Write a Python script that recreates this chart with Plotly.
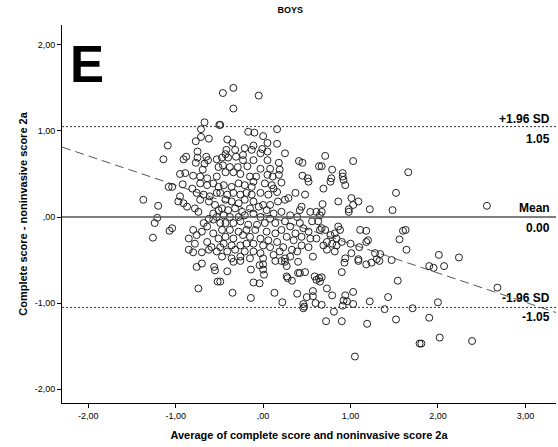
import plotly.graph_objects as go

# Bland-Altman data (average, difference)
avg = [
 -1.37,-1.20,-1.21,-1.24,-1.04,-1.07,-1.26,-1.08,-1.04,-0.92,-0.95,-0.97,-0.91,-0.87,-0.81,-0.78,-0.74,
 -0.85,-0.80,-0.76,-0.78,-0.85,-0.80,-0.70,-0.64,-0.62,-0.68,-0.62,-0.64,-0.70,-0.57,
 -0.72,-0.64,-0.57,-0.51,-0.76,-0.68,-0.61,-0.53,-0.72,-0.62,-0.55,-0.51,-0.57,-0.53,-0.49,-0.57,-0.51,-0.59,-0.53,-0.49,
 -0.67,-0.50,-0.71,-0.71,-0.77,-0.62,-1.09,-1.14,-0.91,-0.88,-0.75,-0.75,-0.65,-0.63,-0.53,-0.77,-0.67,-0.69,-0.51,
 -0.95,-0.89,-0.80,-0.72,-0.64,-0.53,
 -0.46,-0.34,-0.05,-0.34,-0.49,0.16,-0.17,-0.10,0.00,-0.41,-0.35,0.05,0.16,-0.11,-0.21,-0.13,-0.01,0.05,-0.32,-0.42,
 -0.43,-0.23,-0.03,0.25,-0.47,-0.40,-0.31,-0.23,-0.11,0.05,0.18,0.41,0.45,0.64,-0.46,-0.38,-0.29,-0.18,-0.03,0.08,0.19,
 -0.43,-0.34,-0.26,-0.15,-0.08,0.05,0.11,0.18,0.45,0.51,
 0.71,1.03,0.67,0.79,0.91,0.91,0.78,1.66,
 -0.45,-0.36,-0.28,-0.21,-0.13,-0.11,0.02,0.10,0.12,0.21,0.37,0.48,0.52,-0.49,-0.41,-0.34,-0.26,-0.19,-0.13,-0.03,0.06,0.16,0.29,
 -0.43,-0.36,-0.28,-0.21,-0.11,0.00,0.08,0.17,0.25,0.42,0.44,0.61,-0.47,-0.40,-0.32,-0.24,-0.15,-0.05,0.04,0.12,0.21,0.31,0.39,0.54,
 -0.45,-0.38,-0.28,-0.21,-0.11,-0.03,0.08,0.14,0.25,0.42,0.56,0.63,-0.43,-0.34,-0.26,-0.17,-0.07,0.02,0.31,0.37,0.46,0.52,0.65,
 -0.47,-0.38,-0.28,-0.19,-0.09,0.04,0.14,0.21,0.27,0.44,0.54,0.61,-0.43,-0.34,-0.23,-0.15,-0.03,0.06,0.16,0.35,0.44,0.52,
 -0.45,-0.36,-0.26,-0.19,-0.11,0.00,0.08,0.23,0.33,0.39,-0.41,-0.32,-0.21,-0.11,-0.03,0.12,0.19,0.25,0.31,0.57,
 -0.47,-0.36,-0.26,-0.15,0.00,
 0.69,0.77,0.94,0.92,1.52,1.01,1.09,1.03,0.86,0.68,0.98,0.98,1.22,1.48,0.67,0.65,0.67,0.71,0.86,0.88,0.77,0.82,0.84,0.90,
 0.73,0.79,0.69,0.84,1.11,1.18,1.20,1.18,1.00,1.10,1.01,0.73,0.82,1.28,1.34,1.60,1.63,1.56,1.64,0.94,1.09,1.30,1.47,
 -0.76,-0.70,-0.56,-0.55,-0.52,-0.74,
 -0.34,-0.26,-0.41,-0.49,-0.14,-0.04,0.00,0.00,0.01,-0.11,-0.04,0.14,0.21,0.25,0.27,0.40,0.27,0.28,0.33,0.40,0.42,0.48,
 0.59,0.61,0.64,-0.35,-0.14,0.13,0.22,0.39,0.50,0.57,0.57,0.60,0.46,0.47,0.46,
 0.93,1.09,1.18,1.24,1.33,0.90,0.67,0.65,0.73,0.79,1.03,0.94,0.92,0.96,1.03,0.91,0.67,1.22,1.43,1.54,1.39,1.71,0.81,
 0.72,0.90,1.19,1.52,1.79,1.05,
 1.90,1.95,2.07,2.68,2.00,1.90,1.81,2.02,2.39,2.56,2.01,2.24,
]
diff = [
 0.20,0.13,-0.01,-0.07,-0.13,-0.16,-0.24,0.35,0.35,0.38,0.24,0.18,0.16,0.12,0.33,0.10,0.06,
 -0.25,-0.15,-0.21,-0.31,-0.38,-0.41,-0.41,-0.29,-0.38,-0.07,-0.02,-0.11,-0.17,-0.03,
 0.39,0.37,0.39,0.35,0.28,0.26,0.24,0.28,0.20,0.18,0.14,0.08,0.04,0.00,-0.07,-0.19,-0.25,-0.35,-0.40,-0.35,
 1.10,1.07,1.02,0.93,0.88,0.91,0.83,0.67,0.67,0.70,0.76,0.69,0.70,0.66,0.67,0.63,0.62,0.55,0.58,
 0.50,0.51,0.48,0.47,0.45,0.47,
 1.44,1.50,1.41,1.26,1.07,1.02,0.99,0.98,0.94,0.90,0.86,0.86,0.85,0.83,0.80,0.78,0.79,0.76,0.78,0.78,
 0.73,0.72,0.74,0.74,0.69,0.69,0.70,0.66,0.66,0.66,0.63,0.65,0.63,0.59,0.60,0.58,0.58,0.59,0.56,0.56,0.55,
 0.52,0.52,0.50,0.47,0.47,0.49,0.47,0.49,0.48,0.45,
 0.71,0.65,0.59,0.55,0.51,0.47,0.45,0.52,
 0.37,0.35,0.39,0.37,0.35,0.41,0.39,0.37,0.33,0.40,0.28,0.26,0.41,0.28,0.26,0.28,0.26,0.28,0.26,0.28,0.26,0.29,0.22,
 0.20,0.18,0.16,0.20,0.18,0.14,0.14,0.18,0.20,0.08,0.12,0.06,0.10,0.08,0.10,0.06,0.10,0.12,0.08,0.04,0.06,0.02,0.00,0.06,
 0.02,0.00,0.00,0.02,0.04,0.00,-0.02,-0.07,-0.05,-0.07,-0.05,-0.05,-0.07,-0.07,-0.05,-0.09,-0.09,-0.07,-0.11,-0.19,-0.13,-0.17,-0.15,
 -0.15,-0.15,-0.17,-0.15,-0.15,-0.17,-0.19,-0.15,-0.23,-0.23,-0.25,-0.25,-0.23,-0.25,-0.21,-0.23,-0.25,-0.27,-0.29,-0.27,-0.33,-0.35,
 -0.31,-0.33,-0.33,-0.31,-0.31,-0.33,-0.35,-0.35,-0.38,-0.40,-0.40,-0.38,-0.40,-0.40,-0.42,-0.44,-0.40,-0.48,-0.46,-0.46,
 -0.46,-0.48,-0.46,-0.48,-0.48,
 0.33,0.41,0.37,0.43,0.28,0.22,0.18,0.14,0.18,0.15,0.09,0.06,0.09,0.08,0.06,0.02,-0.13,-0.15,-0.11,-0.15,-0.21,-0.19,-0.25,-0.29,
 -0.29,-0.31,-0.33,-0.33,-0.15,-0.16,-0.27,-0.29,-0.31,-0.35,-0.42,-0.38,-0.40,-0.42,-0.43,-0.16,-0.15,-0.26,-0.38,-0.48,-0.49,-0.49,-0.50,
 -0.58,-0.54,-0.58,-0.62,-0.75,-0.83,
 -0.52,-0.51,-0.63,-0.75,-0.61,-0.56,-0.55,-0.61,-0.67,-0.76,-0.77,-0.51,-0.51,-0.52,-0.57,-0.52,-0.69,-0.71,-0.74,-0.65,-0.65,-0.64,
 -0.69,-0.73,-0.71,-0.88,-0.94,-0.88,-0.99,-0.89,-0.93,-0.92,-0.86,-1.00,-1.01,-1.04,-1.06,
 -0.53,-0.51,-0.55,-0.53,-0.51,-0.64,-0.70,-0.75,-0.83,-0.91,-0.87,-0.91,-0.97,-0.98,-1.01,-1.03,-1.02,-0.98,-0.93,-0.74,-1.07,-1.06,-1.10,
 -1.21,-1.21,-1.24,-1.19,-1.47,-1.62,
 -0.57,-0.59,-0.57,-0.82,-0.99,-1.17,-1.47,-1.40,-1.44,0.13,-0.44,-0.47,
]

mean_diff = 0.00
upper_loa = 1.05
lower_loa = -1.05
reg_intercept = 0.03
reg_slope = -0.34

x_range = [-2.3, 3.35]
y_range = [-2.16, 2.23]
x_ticks = [-2, -1, 0, 1, 2, 3]
x_ticklabels = ["-2,00", "-1,00", ",00", "1,00", "2,00", "3,00"]
y_ticks = [-2, -1, 0, 1, 2]
y_ticklabels = ["-2,00", "-1,00", ",00", "1,00", "2,00"]

n = min(len(avg), len(diff))
avg = avg[:n]
diff = diff[:n]

fig = go.Figure()

# regression line
fig.add_trace(go.Scatter(
    x=x_range, y=[reg_intercept + reg_slope * v for v in x_range],
    mode="lines", line=dict(color="#555555", width=1, dash="9px,5px"),
    hoverinfo="skip", showlegend=False))

fig.add_trace(go.Scatter(
    x=avg, y=diff, mode="markers",
    marker=dict(symbol="circle-open", size=7, color="#222222", line=dict(width=1)),
    showlegend=False))

fig.add_hline(y=upper_loa, line=dict(color="#333333", width=1, dash="2px,2px"))
fig.add_hline(y=lower_loa, line=dict(color="#333333", width=1, dash="2px,2px"))
fig.add_hline(y=mean_diff, line=dict(color="#555555", width=1.5))

lab_font = dict(family="Liberation Sans, Arial, sans-serif", size=12, color="black")
def lab(text, yv, shift):
    fig.add_annotation(x=1, xref="paper", y=yv, yref="y", text="<b>%s</b>" % text,
                       showarrow=False, xanchor="right", yanchor="middle",
                       yshift=shift, xshift=-4, font=lab_font)

lab("+1.96 SD", upper_loa, 8)
lab("%.2f" % upper_loa, upper_loa, -12)
lab("Mean", mean_diff, 9)
lab("%.2f" % mean_diff, mean_diff, -11)
lab("-1.96 SD", lower_loa, 9)
lab("%.2f" % lower_loa, lower_loa, -10)

fig.add_annotation(x=0.012, xref="paper", y=0.975, yref="paper", text="<b>E</b>",
                   showarrow=False, xanchor="left", yanchor="top",
                   font=dict(family="Liberation Sans, Arial, sans-serif", size=51, color="black"))

fig.update_layout(
    width=558, height=447,
    margin=dict(l=62, r=2, t=25, b=44),
    paper_bgcolor="white", plot_bgcolor="white",
    title=dict(text="<b>BOYS</b>", x=0.52, xanchor="center", y=0.985, yanchor="top",
               font=dict(family="Liberation Sans, Arial, sans-serif", size=9, color="black")),
    font=dict(family="Liberation Sans, Arial, sans-serif", size=9, color="black"),
)
fig.update_xaxes(range=x_range, tickvals=x_ticks, ticktext=x_ticklabels,
                 showgrid=False, zeroline=False, showline=True, linecolor="black", linewidth=1,
                 ticks="outside", ticklen=4, tickcolor="black", mirror=False,
                 title=dict(text="<b>Average of complete score and noninvasive score 2a</b>",
                            font=dict(size=11), standoff=11))
fig.update_yaxes(range=y_range, tickvals=y_ticks, ticktext=y_ticklabels,
                 showgrid=False, zeroline=False, showline=True, linecolor="black", linewidth=1,
                 ticks="outside", ticklen=4, tickcolor="black", mirror=False,
                 title=dict(text="<b>Complete score - noninvasive score 2a</b>",
                            font=dict(size=11), standoff=4))

fig.write_html("out.html")
